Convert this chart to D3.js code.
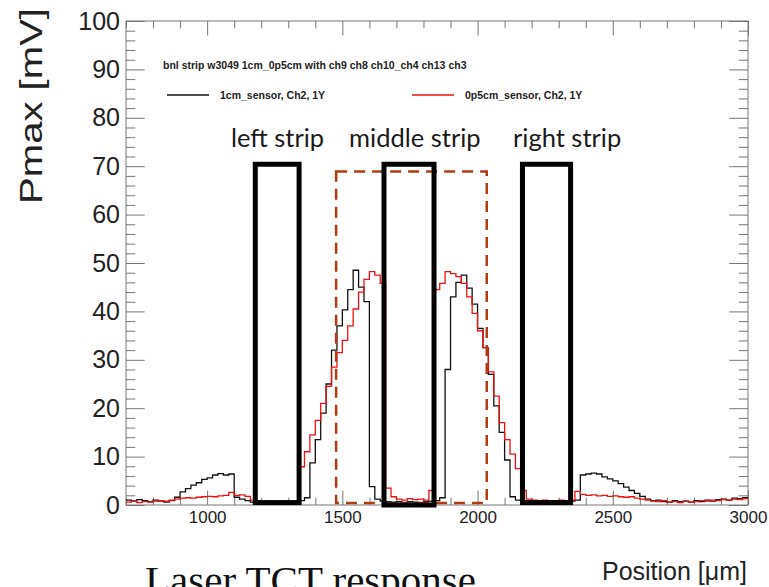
<!DOCTYPE html>
<html>
<head>
<meta charset="utf-8">
<script src="https://cdn.jsdelivr.net/npm/d3@7/dist/d3.min.js"></script>
<style>
  body { margin: 0; background: #fff; }
  svg text { font-family: "Liberation Sans", Arial, sans-serif; }
</style>
</head>
<body>
<div id="chart"></div>
<script>
// histogram bins: 20 um wide, first bin starts at 700 um
const binStart = 700, binWidth = 20;

// Pmax [mV] per bin, 1cm sensor (black)
const sensor1cm = [
  1.0, 0.8, 1.1, 0.9, 0.7, 1.0, 0.8, 0.6, 0.9, 1.6,
  2.7, 3.4, 4.1, 4.6, 5.3, 5.6, 6.2, 6.5, 6.2, 6.4,
  1.6, 1.2, 0.9, 0.6, 0.9, 0.7, 0.8, 0.6, 0.7, 0.8,
  0.6, 0.7, 0.9, 1.5, 8.7, 13.5, 19.0, 25.0, 32.0, 37.0,
  40.3, 44.5, 48.5, 45.0, 42.0, 3.8, 1.2, 0.8, 0.7, 0.6,
  0.7, 0.5, 0.7, 0.6, 0.5, 0.7, 0.8, 0.9, 1.5, 28.0,
  43.0, 46.0, 47.5, 44.8, 41.5, 36.5, 32.5, 27.0, 20.5, 15.0,
  9.3, 1.7, 1.0, 0.8, 0.7, 0.6, 0.8, 0.7, 0.6, 0.8,
  0.7, 0.6, 0.8, 1.0, 6.2, 6.4, 6.6, 6.4, 5.8, 5.4,
  5.0, 4.4, 3.7, 3.0, 2.4, 1.8, 1.2, 0.9, 1.0, 0.7,
  0.6, 0.9, 0.7, 0.8, 0.6, 0.9, 0.7, 1.0, 0.8, 1.1,
  1.2, 1.0, 1.4, 1.3, 1.5
];

// Pmax [mV] per bin, 0p5cm sensor (red)
const sensor0p5cm = [
  0.6, 0.8, 0.5, 0.7, 0.6, 0.8, 0.9, 0.8, 1.0, 1.2,
  1.4, 1.5, 1.4, 1.6, 1.7, 1.8, 1.7, 1.9, 2.0, 2.6,
  2.0, 2.1, 1.8, 1.0, 0.5, 0.6, 0.5, 0.4, 0.5, 0.6,
  0.5, 0.6, 7.9, 11.0, 14.5, 17.5, 21.0, 24.5, 28.5, 31.5,
  34.0, 37.0, 40.5, 44.0, 46.6, 48.2, 47.5, 45.8, 3.5, 1.7,
  1.2, 1.0, 1.3, 1.1, 1.2, 1.0, 3.0, 44.5, 45.8, 48.2,
  47.8, 47.2, 45.8, 43.0, 39.6, 36.0, 32.5, 27.5, 22.5, 17.0,
  13.5, 10.5, 7.5, 3.0, 1.2, 1.0, 0.8, 1.0, 0.9, 0.8,
  1.0, 0.9, 1.0, 2.8, 2.2, 2.0, 2.1, 1.9, 2.0, 1.8,
  1.9, 1.7, 1.6, 1.7, 1.4, 1.2, 1.0, 0.8, 0.7, 0.9,
  0.6, 0.7, 0.5, 0.8, 0.6, 0.7, 0.9, 0.8, 1.0, 0.9,
  1.1, 1.0, 1.2, 1.1, 1.3
];

// strip boxes drawn over the plot (data units)
const stripNames = ["left strip", "middle strip", "right strip"];
const stripX0 = [1178, 1654, 2166];
const stripX1 = [1340, 1839, 2344];
const stripY0 = [0.5, 0.0, 0.5];
const stripTop = 70.4;
const labelX = [1088, 1525, 2131];
const labelY = 74.0;

// dashed box (data units)
const dashX = [1477, 2034];
const dashY = [0.4, 68.9];

const xMajor = [1000, 1500, 2000, 2500, 3000];
const yMajor = d3.range(0, 101, 10);

const width = 769, height = 587;
const x = d3.scaleLinear().domain([700, 3000]).range([126, 748]);
const y = d3.scaleLinear().domain([0, 100]).range([505, 21]);

const svg = d3.select("#chart").append("svg")
    .attr("width", width)
    .attr("height", height);

// ticks, ROOT style: inside, on all four sides
const xMinor = d3.range(700, 3001, 100).filter(d => d % 500 != 0);
const yMinor = d3.range(0, 101, 2).filter(d => d % 10 != 0);

function styleAxis(g) {
  g.select(".domain").remove();
  g.selectAll("line").attr("stroke", "#777").attr("stroke-width", 1);
}

svg.append("g").attr("transform", "translate(0,505)")
   .call(d3.axisBottom(x).tickValues(xMajor).tickSize(-14.5).tickPadding(6).tickFormat(d3.format("d")))
   .call(styleAxis)
   .selectAll("text").attr("font-size", 17).attr("fill", "#222");
svg.append("g").attr("transform", "translate(0,505)")
   .call(d3.axisBottom(x).tickValues(xMinor).tickSize(-7.3).tickFormat(""))
   .call(styleAxis);
svg.append("g").attr("transform", "translate(0,21)")
   .call(d3.axisTop(x).tickValues(xMajor).tickSize(-14.5).tickFormat(""))
   .call(styleAxis);
svg.append("g").attr("transform", "translate(0,21)")
   .call(d3.axisTop(x).tickValues(xMinor).tickSize(-7.3).tickFormat(""))
   .call(styleAxis);

svg.append("g").attr("transform", "translate(126,0)")
   .call(d3.axisLeft(y).tickValues(yMajor).tickSize(-18.7).tickPadding(6))
   .call(styleAxis)
   .selectAll("text").attr("font-size", 25).attr("fill", "#222");
svg.append("g").attr("transform", "translate(126,0)")
   .call(d3.axisLeft(y).tickValues(yMinor).tickSize(-9.3).tickFormat(""))
   .call(styleAxis);
svg.append("g").attr("transform", "translate(748,0)")
   .call(d3.axisRight(y).tickValues(yMajor).tickSize(-18.7).tickFormat(""))
   .call(styleAxis);
svg.append("g").attr("transform", "translate(748,0)")
   .call(d3.axisRight(y).tickValues(yMinor).tickSize(-9.3).tickFormat(""))
   .call(styleAxis);

// frame
svg.append("rect")
   .attr("x", x(700)).attr("y", y(100))
   .attr("width", x(3000) - x(700)).attr("height", y(0) - y(100))
   .attr("fill", "none").attr("stroke", "#777").attr("stroke-width", 1);

// histograms as step lines
function histPoints(vals) {
  const pts = vals.map((v, i) => [binStart + i * binWidth, v]);
  pts.push([binStart + vals.length * binWidth, vals[vals.length - 1]]);
  return pts;
}
const line = d3.line()
    .x(d => x(d[0]))
    .y(d => y(d[1]))
    .curve(d3.curveStepAfter);

svg.append("path").datum(histPoints(sensor1cm))
   .attr("d", line).attr("fill", "none")
   .attr("stroke", "#111").attr("stroke-width", 1.3);
svg.append("path").datum(histPoints(sensor0p5cm))
   .attr("d", line).attr("fill", "none")
   .attr("stroke", "#f01010").attr("stroke-width", 1.3);

// title + legend
svg.append("text").attr("x", 163).attr("y", 69)
   .attr("font-size", 10.5).attr("font-weight", "bold").attr("fill", "#222")
   .text("bnl strip w3049 1cm_0p5cm with ch9 ch8 ch10_ch4 ch13 ch3");

const legend = [
  {label: "1cm_sensor, Ch2, 1Y", color: "#111", x: 167},
  {label: "0p5cm_sensor, Ch2, 1Y", color: "#f01010", x: 412}
];
legend.forEach(l => {
  svg.append("line").attr("x1", l.x).attr("x2", l.x + 42)
     .attr("y1", 95).attr("y2", 95)
     .attr("stroke", l.color).attr("stroke-width", 1.3);
  svg.append("text").attr("x", l.x + 53).attr("y", 99)
     .attr("font-size", 10.5).attr("font-weight", "bold").attr("fill", "#222")
     .text(l.label);
});

// dashed box
svg.append("rect")
   .attr("x", x(dashX[0])).attr("y", y(dashY[1]))
   .attr("width", x(dashX[1]) - x(dashX[0]))
   .attr("height", y(dashY[0]) - y(dashY[1]))
   .attr("fill", "none").attr("stroke", "#b03c14")
   .attr("stroke-width", 2.5).attr("stroke-dasharray", "11,7");

// strip boxes and labels
stripNames.forEach((name, i) => {
  svg.append("rect")
     .attr("x", x(stripX0[i])).attr("y", y(stripTop))
     .attr("width", x(stripX1[i]) - x(stripX0[i]))
     .attr("height", y(stripY0[i]) - y(stripTop))
     .attr("fill", "none").attr("stroke", "#000").attr("stroke-width", 5);
  svg.append("text").attr("x", x(labelX[i])).attr("y", y(labelY))
     .style("font-family", "Lato, 'Open Sans', sans-serif")
     .attr("font-size", 25.5).attr("fill", "#1a1a1a")
     .text(name);
});

// axis titles
svg.append("text")
   .attr("transform", "translate(42,106) rotate(-90)")
   .attr("text-anchor", "middle")
   .attr("font-size", 32).attr("fill", "#222")
   .attr("textLength", 196).attr("lengthAdjust", "spacingAndGlyphs")
   .text("Pmax [mV]");

svg.append("text").attr("x", 747).attr("y", 580)
   .attr("text-anchor", "end")
   .attr("font-size", 25).attr("fill", "#222")
   .text("Position [\u03bcm]");

// slide caption, cut off by the bottom edge as in the original
svg.append("text").attr("x", 145).attr("y", 594)
   .style("font-family", "'Liberation Serif', 'DejaVu Serif', serif")
   .attr("font-size", 41).attr("fill", "#111")
   .text("Laser TCT response");
</script>
</body>
</html>
